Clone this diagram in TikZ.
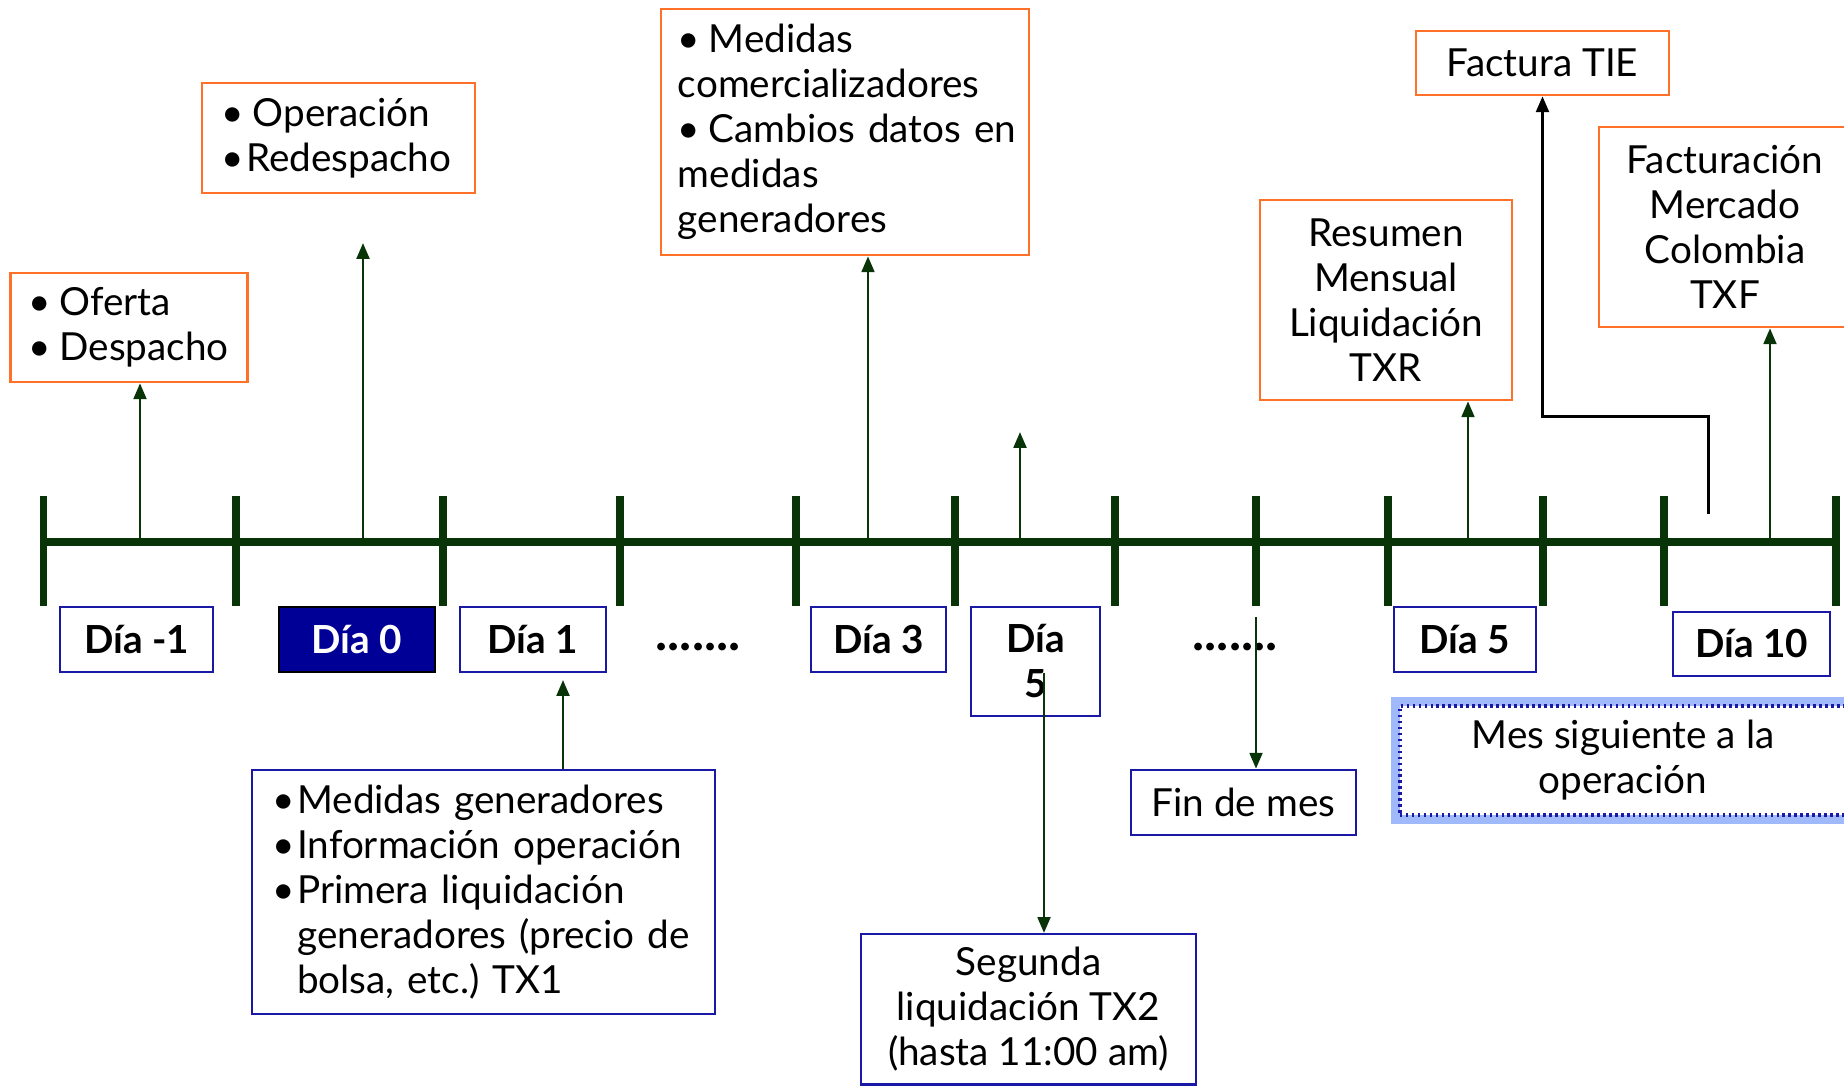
\documentclass[tikz,border=0pt]{standalone}
\usepackage{fontspec}
\setmainfont{Lato}
\usetikzlibrary{arrows.meta}
\definecolor{tlgreen}{RGB}{8,52,8}
\definecolor{boxorange}{RGB}{255,112,40}
\definecolor{boxblue}{RGB}{25,25,165}
\definecolor{dianavy}{RGB}{0,0,150}
\definecolor{glowblue}{RGB}{160,185,250}
\newcommand{\bl}{\textbullet\kern0.22em}
\newcommand{\tb}{\textbullet\kern0.05em}

\begin{document}
\begin{tikzpicture}[x=0.01cm,y=-0.01cm,font=\fontsize{11}{12.8}\selectfont,
ob/.style={draw=boxorange,line width=0.7pt,fill=white,inner sep=0pt,execute at begin node={\hyphenpenalty=10000}},
bb/.style={draw=boxblue,line width=0.7pt,fill=white,inner sep=0pt,execute at begin node={\hyphenpenalty=10000}},
dia/.style={bb,font=\fontsize{11}{12.8}\selectfont\bfseries,minimum height=0.65cm},
dots/.style={font=\fontsize{14.5}{16}\selectfont\bfseries,inner sep=0pt},
up/.style={draw=tlgreen,line width=0.8pt,-{Triangle[length=4.5pt,width=3.6pt]}},
blk/.style={draw=black,line width=0.85pt,-{Triangle[length=4.5pt,width=3.6pt]}},
tl/.style={draw=tlgreen,line width=2pt}]
\useasboundingbox (0,0) rectangle (1844,1086);
\draw[tl] (43.5,542) -- (1836,542);
\foreach \x in {43.5,236,443,620,796,955,1115,1256,1388,1543,1664,1836}
  \draw[tl] (\x,496) -- (\x,606);
\node[ob,minimum height=1.09cm,inner xsep=0.18cm,text width=2.01cm,align=left] (oferta) at (129,327.5) {\bl Oferta\\\bl Despacho};
\node[ob,minimum height=1.10cm,inner xsep=0.2cm,text width=2.33cm,align=left] (operacion) at (338.5,138) {\bl Operación\\\tb Redespacho};
\node[ob,minimum height=2.46cm,inner xsep=0.17cm,text width=3.34cm,align=left] (medcom) at (845,132) {\bl Medidas\\comercializadores\\\mbox{\bl Cambios datos en}\\medidas\\generadores};
\node[ob,minimum width=2.52cm,minimum height=2.0cm,align=center] (resumen) at (1386,300) {Resumen\\Mensual\\Liquidación\\TXR};
\node[ob,minimum width=2.53cm,minimum height=0.64cm] (tie) at (1542.5,63) {Factura TIE};
\node[ob,minimum width=2.52cm,minimum height=2.0cm,align=center] (factmer) at (1725,227) {Facturación\\Mercado\\Colombia\\TXF};
\node[dia,minimum width=1.53cm] (dm1) at (136.5,639.5) {Día -1};
\node[dia,minimum width=1.56cm,fill=dianavy,draw=black,text=white] (d0) at (357,639.5) {Día 0};
\node[dia,minimum width=1.46cm] (d1) at (533,639.5) {Día 1};
\node[dots] (dots1) at (698,647) {.......};
\node[dia,minimum width=1.35cm] (d3) at (878.5,639.5) {Día 3};
\node[dia,minimum width=1.29cm,minimum height=1.09cm,align=center] (d5a) at (1035.5,661.5) {Día\\5};
\node[dots] (dots2) at (1235,647) {.......};
\node[dia,minimum width=1.42cm] (d5b) at (1465,639.5) {Día 5};
\node[dia,minimum width=1.57cm,minimum height=0.64cm] (d10) at (1751.5,644) {Día 10};
\node[bb,preaction={draw=glowblue,line width=5pt,solid},densely dotted,line width=1pt,minimum width=4.46cm,minimum height=1.09cm,align=center] (messig) at (1623,760.5) {Mes siguiente a la\\operación};
\node[bb,minimum width=2.25cm,minimum height=0.65cm] (finmes) at (1243.5,802.5) {Fin de mes};
\node[bb,minimum height=2.44cm,inner xsep=0.21cm,text width=4.21cm,align=left] (medgen) at (483.5,892) {\tb Medidas generadores\\\tb Información operación\\\tb Primera liquidación\\\hphantom{\tb}generadores (precio de\\\hphantom{\tb}bolsa, etc.)\ TX1};
\node[bb,anchor=north,minimum width=3.35cm,minimum height=1.5cm,align=center] (segunda) at (1028.5,933) {Segunda\\liquidación TX2\\(hasta 11:00 am)};
\coordinate (t1) at (140,542);
\coordinate (t2) at (363,542);
\coordinate (e2) at (363,243);
\coordinate (t3) at (868,542);
\coordinate (t4) at (1020,542);
\coordinate (e4) at (1020,432);
\coordinate (t5) at (1468,542);
\coordinate (t6) at (1770,542);
\coordinate (c7) at (1708,514);
\coordinate (e8) at (563,680);
\coordinate (s9) at (1044,673);
\coordinate (s10) at (1256,617);
\draw[up] (t1) -- (t1 |- oferta.south);
\draw[up] (t2) -- (e2);
\draw[up] (t3) -- (t3 |- medcom.south);
\draw[up] (t4) -- (e4);
\draw[up] (t5) -- (t5 |- resumen.south);
\draw[up] (t6) -- (t6 |- factmer.south);
\draw[blk] (c7) -- ++(0,-97) -| (tie.south);
\draw[up] (e8 |- medgen.north) -- (e8);
\draw[up] (s9) -- (s9 |- segunda.north);
\draw[up] (s10) -- (s10 |- finmes.north);
\end{tikzpicture}
\end{document}
